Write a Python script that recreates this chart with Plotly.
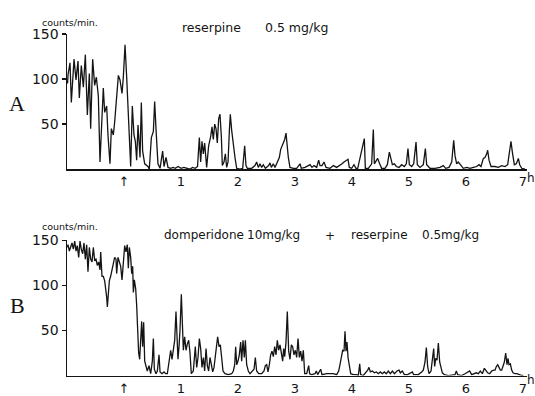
import plotly.graph_objects as go

# ---------------- data (hours after injection, counts/min) ----------------
TIME_A = [-0.99, -0.982, -0.947, -0.924, -0.877, -0.842, -0.807, -0.784, -0.749, -0.713,
          -0.678, -0.643, -0.608, -0.585, -0.550, -0.515, -0.485, -0.450, -0.421, -0.386,
          -0.363, -0.339, -0.304, -0.281, -0.246, -0.222, -0.187, -0.164, -0.129, -0.099,
          -0.070, -0.035, -0.012, 0.018, 0.047, 0.070, 0.094, 0.117, 0.146, 0.175,
          0.199, 0.222, 0.246, 0.281, 0.304, 0.327, 0.363, 0.398, 0.421, 0.444,
          0.480, 0.515, 0.538, 0.561, 0.596, 0.632, 0.678, 0.702, 0.737, 0.772,
          0.819, 0.86, 0.90, 0.95, 1.00, 1.05, 1.10, 1.158, 1.20, 1.25,
          1.29, 1.322, 1.345, 1.368, 1.392, 1.415, 1.450, 1.485, 1.520, 1.544,
          1.567, 1.591, 1.614, 1.637, 1.661, 1.684, 1.708, 1.725, 1.754, 1.778,
          1.801, 1.825, 1.848, 1.865, 1.889, 1.918, 1.947, 1.977, 2.035, 2.082,
          2.117, 2.140, 2.164, 2.240, 2.298, 2.327, 2.357, 2.386, 2.415, 2.444,
          2.480, 2.538, 2.561, 2.585, 2.620, 2.649, 2.690, 2.725, 2.749, 2.772,
          2.795, 2.819, 2.842, 2.860, 2.883, 2.912, 2.971, 3.029, 3.088, 3.111,
          3.175, 3.234, 3.263, 3.298, 3.333, 3.380, 3.415, 3.439, 3.474, 3.509,
          3.544, 3.614, 3.673, 3.731, 3.789, 3.825, 3.860, 3.895, 3.930, 3.953,
          3.994, 4.035, 4.070, 4.10, 4.216, 4.234, 4.287, 4.345, 4.374, 4.392,
          4.427, 4.450, 4.485, 4.520, 4.579, 4.620, 4.655, 4.678, 4.708, 4.743,
          4.778, 4.825, 4.871, 4.918, 4.953, 4.982, 5.006, 5.047, 5.082, 5.123,
          5.146, 5.193, 5.251, 5.287, 5.310, 5.368, 5.456, 5.544, 5.602, 5.643,
          5.702, 5.749, 5.784, 5.807, 5.836, 5.865, 5.901, 5.953, 6.012, 6.070,
          6.129, 6.187, 6.228, 6.263, 6.304, 6.333, 6.363, 6.380, 6.404, 6.439,
          6.509, 6.567, 6.626, 6.684, 6.731, 6.766, 6.789, 6.813, 6.848, 6.883,
          6.918, 6.942, 6.977, 7.035]
COUNTS_A = [95, 105, 118, 74, 122, 99, 120, 79, 115, 91,
            127, 60, 106, 45, 122, 93, 102, 81, 8, 56,
            90, 63, 70, 38, 6, 45, 38, 52, 81, 104,
            99, 84, 102, 138, 102, 67, 49, 3, 70, 38,
            31, 10, 49, 13, 74, 20, 6, 4, 3, 0,
            35, 42, 75, 45, 6, 1, 20, 3, 13, 2,
            1, 2, 1, 3, 1, 2, 1, 0, 2, 1,
            3, 35, 8, 31, 17, 29, 2, 26, 36, 47,
            33, 50, 45, 29, 56, 61, 36, 4, 8, 17,
            2, 8, 42, 61, 43, 26, 13, 1, 0, 1,
            26, 4, 1, 1, 4, 8, 2, 6, 2, 5,
            1, 4, 7, 2, 6, 2, 8, 13, 22, 26,
            29, 33, 40, 26, 13, 2, 1, 1, 6, 1,
            2, 4, 5, 2, 4, 2, 10, 4, 4, 8,
            2, 1, 4, 2, 4, 6, 8, 10, 11, 2,
            1, 5, 1, 1, 34, 1, 1, 6, 44, 6,
            10, 12, 6, 1, 1, 5, 19, 13, 5, 6,
            3, 2, 5, 3, 6, 23, 5, 3, 6, 30,
            5, 2, 5, 23, 5, 1, 1, 2, 4, 1,
            2, 8, 32, 15, 6, 8, 5, 1, 2, 1,
            2, 3, 5, 3, 12, 13, 17, 21, 10, 3,
            3, 2, 4, 3, 5, 21, 31, 19, 5, 6,
            12, 5, 1, 0]

TIME_B = [-0.995, -0.982, -0.959, -0.936, -0.912, -0.889, -0.865, -0.842, -0.819, -0.795,
          -0.772, -0.749, -0.725, -0.702, -0.678, -0.655, -0.632, -0.608, -0.585, -0.561,
          -0.538, -0.515, -0.491, -0.468, -0.444, -0.421, -0.409, -0.386, -0.363, -0.339,
          -0.316, -0.304, -0.292, -0.275, -0.257, -0.234, -0.211, -0.187, -0.164, -0.140,
          -0.129, -0.105, -0.082, -0.058, -0.035, -0.012, 0.012, 0.035, 0.058, 0.076,
          0.094, 0.117, 0.135, 0.152, 0.164, 0.181, 0.205, 0.222, 0.240, 0.257,
          0.275, 0.292, 0.310, 0.327, 0.345, 0.363, 0.386, 0.409, 0.439, 0.468,
          0.497, 0.515, 0.532, 0.561, 0.585, 0.614, 0.632, 0.667, 0.702, 0.731,
          0.760, 0.789, 0.819, 0.842, 0.865, 0.889, 0.912, 0.930, 0.947, 0.965,
          0.982, 1.006, 1.023, 1.041, 1.064, 1.088, 1.111, 1.135, 1.158, 1.181,
          1.216, 1.251, 1.275, 1.298, 1.322, 1.345, 1.368, 1.392, 1.415, 1.439,
          1.462, 1.485, 1.509, 1.532, 1.556, 1.579, 1.602, 1.626, 1.643, 1.667,
          1.690, 1.713, 1.737, 1.772, 1.830, 1.889, 1.918, 1.942, 1.959, 1.977,
          2.000, 2.023, 2.047, 2.064, 2.088, 2.111, 2.129, 2.152, 2.181, 2.211,
          2.246, 2.281, 2.304, 2.327, 2.363, 2.415, 2.456, 2.480, 2.503, 2.526,
          2.550, 2.573, 2.596, 2.620, 2.643, 2.667, 2.690, 2.713, 2.737, 2.760,
          2.784, 2.801, 2.819, 2.842, 2.865, 2.889, 2.912, 2.936, 2.959, 2.982,
          3.006, 3.029, 3.053, 3.076, 3.099, 3.123, 3.146, 3.170, 3.205, 3.240,
          3.257, 3.292, 3.351, 3.374, 3.398, 3.450, 3.474, 3.556, 3.614, 3.673,
          3.731, 3.766, 3.789, 3.813, 3.836, 3.860, 3.877, 3.895, 3.912, 3.930,
          3.953, 3.977, 4.023, 4.082, 4.111, 4.135, 4.152, 4.199, 4.275, 4.298,
          4.322, 4.357, 4.392, 4.427, 4.462, 4.497, 4.532, 4.567, 4.602, 4.637,
          4.673, 4.708, 4.743, 4.789, 4.825, 4.848, 4.883, 4.918, 4.977, 5.058,
          5.082, 5.164, 5.222, 5.251, 5.281, 5.304, 5.327, 5.351, 5.386, 5.409,
          5.433, 5.450, 5.468, 5.491, 5.515, 5.538, 5.561, 5.585, 5.620, 5.690,
          5.807, 5.830, 5.854, 5.924, 5.982, 6.029, 6.064, 6.099, 6.146, 6.181,
          6.216, 6.251, 6.287, 6.322, 6.345, 6.380, 6.415, 6.450, 6.485, 6.509,
          6.532, 6.556, 6.579, 6.602, 6.626, 6.649, 6.673, 6.696, 6.719, 6.737,
          6.754, 6.778, 6.801, 6.825, 6.860, 6.895, 6.930, 6.977, 7.006]
COUNTS_B = [142, 145, 138, 142, 147, 140, 149, 138, 144, 131,
            149, 140, 135, 147, 129, 145, 115, 142, 129, 126,
            142, 128, 129, 122, 126, 117, 137, 110, 110, 105,
            96, 87, 76, 96, 105, 110, 117, 122, 131, 129,
            113, 131, 126, 121, 106, 121, 144, 137, 145, 119,
            142, 131, 113, 121, 92, 106, 96, 78, 50, 25,
            18, 50, 60, 32, 59, 16, 11, 5, 11, 2,
            16, 41, 7, 2, 5, 23, 4, 2, 4, 2,
            2, 14, 28, 18, 32, 39, 71, 50, 18, 32,
            50, 90, 43, 28, 43, 28, 35, 39, 25, 2,
            5, 32, 9, 20, 41, 30, 9, 20, 5, 30,
            11, 5, 20, 12, 4, 9, 23, 34, 43, 32,
            34, 20, 5, 2, 1, 2, 5, 12, 32, 12,
            16, 23, 37, 16, 39, 20, 39, 12, 5, 2,
            4, 7, 20, 5, 2, 2, 5, 11, 12, 4,
            12, 23, 27, 21, 32, 23, 39, 28, 34, 25,
            16, 30, 21, 37, 71, 27, 18, 34, 32, 23,
            28, 20, 41, 20, 27, 16, 28, 2, 2, 11,
            2, 1, 2, 5, 1, 7, 1, 2, 2, 2,
            1, 5, 12, 20, 28, 27, 49, 27, 37, 20,
            12, 2, 1, 1, 0, 13, 1, 0, 6, 9,
            4, 5, 3, 4, 2, 4, 2, 4, 2, 5,
            2, 5, 2, 5, 6, 3, 5, 1, 1, 4,
            1, 1, 4, 6, 15, 31, 10, 2, 5, 15,
            30, 10, 19, 17, 36, 15, 10, 3, 1, 0,
            1, 5, 1, 0, 2, 4, 5, 1, 2, 3,
            2, 5, 2, 8, 6, 3, 2, 5, 6, 6,
            10, 12, 9, 6, 6, 10, 15, 25, 12, 19,
            12, 13, 6, 3, 2, 2, 1, 0, 0]

X_TICK_VALS = [0, 1, 2, 3, 4, 5, 6, 7]
X_TICK_TEXT = ["\u2191", "1", "2", "3", "4", "5", "6", "7"]
Y_TICK_VALS = [50, 100, 150]
Y_TICK_TEXT = ["50", "100", "150"]

TITLE_A = ["reserpine", "0.5 mg/kg"]
TITLE_B = ["domperidone", "10mg/kg", "+", "reserpine", "0.5mg/kg"]

assert len(TIME_A) == len(COUNTS_A), (len(TIME_A), len(COUNTS_A))
assert len(TIME_B) == len(COUNTS_B), (len(TIME_B), len(COUNTS_B))

# ---------------- layout helpers ----------------
W, H = 535, 396
INK = "#141414"
SANS = "DejaVu Sans"


def fx(p):
    return p / W


def fy(p):
    return 1 - p / H


fig = go.Figure()
line_style = dict(color=INK, width=1.3)
fig.add_trace(go.Scatter(x=TIME_A, y=COUNTS_A, mode="lines", line=line_style,
                         xaxis="x", yaxis="y", showlegend=False, hoverinfo="skip"))
fig.add_trace(go.Scatter(x=TIME_B, y=COUNTS_B, mode="lines", line=line_style,
                         xaxis="x2", yaxis="y2", showlegend=False, hoverinfo="skip"))

xcommon = dict(range=[-1, 7.07], domain=[fx(67), fx(527)], showgrid=False, zeroline=False,
               showline=True, linecolor=INK, linewidth=1.5, ticks="",
               tickvals=X_TICK_VALS, ticktext=X_TICK_TEXT,
               tickfont=dict(family=SANS, size=13, color=INK), fixedrange=True)
ycommon = dict(range=[0, 150], showgrid=False, zeroline=False, showline=True,
               linecolor=INK, linewidth=1.5, ticks="outside", ticklen=4, tickwidth=1.3,
               tickcolor=INK, tickvals=Y_TICK_VALS, ticktext=Y_TICK_TEXT,
               tickfont=dict(family=SANS, size=14, color=INK), fixedrange=True)

fig.update_layout(
    width=W, height=H, autosize=False,
    margin=dict(l=0, r=0, t=0, b=0),
    paper_bgcolor="white", plot_bgcolor="white",
    xaxis=dict(xcommon, anchor="y"),
    yaxis=dict(ycommon, anchor="x", domain=[fy(168), fy(27)]),
    xaxis2=dict(xcommon, anchor="y2"),
    yaxis2=dict(ycommon, anchor="x2", domain=[fy(383), fy(242)]),
)

ann = []


def text(x, y, s, size=12, family=SANS, xanchor="left"):
    ann.append(dict(x=fx(x), y=fy(y), xref="paper", yref="paper", text=s, showarrow=False,
                    xanchor=xanchor, yanchor="middle",
                    font=dict(family=family, size=size, color=INK)))


# axis unit labels
text(40, 15, "counts/min.", size=9.5)
text(40, 228, "counts/min.", size=9.5)
text(525, 177, "h", size=12)
text(525, 388, "h", size=12)
# panel letters
text(17, 99, "A", size=22, family="Liberation Serif", xanchor="center")
text(17, 310, "B", size=22, family="Liberation Serif", xanchor="center")
# titles
text(180, 20, TITLE_A[0], size=12.5)
text(263, 20, TITLE_A[1], size=12.5)
text(162, 237, TITLE_B[0], size=12)
text(245, 237, TITLE_B[1], size=12)
text(330, 238, TITLE_B[2], size=12, xanchor="center")
text(349, 237, TITLE_B[3], size=12)
text(420, 237, TITLE_B[4], size=12)

fig.update_layout(annotations=ann)

# remove the browser's default 8px page margin so the 535x396 figure fills the window
PAGE_CSS_FIX = ("document.documentElement.style.margin='0';"
                "document.body.style.margin='0';"
                "document.body.style.overflow='hidden';")

fig.write_html("out.html", post_script=PAGE_CSS_FIX,
               config={"displayModeBar": False, "staticPlot": True})
